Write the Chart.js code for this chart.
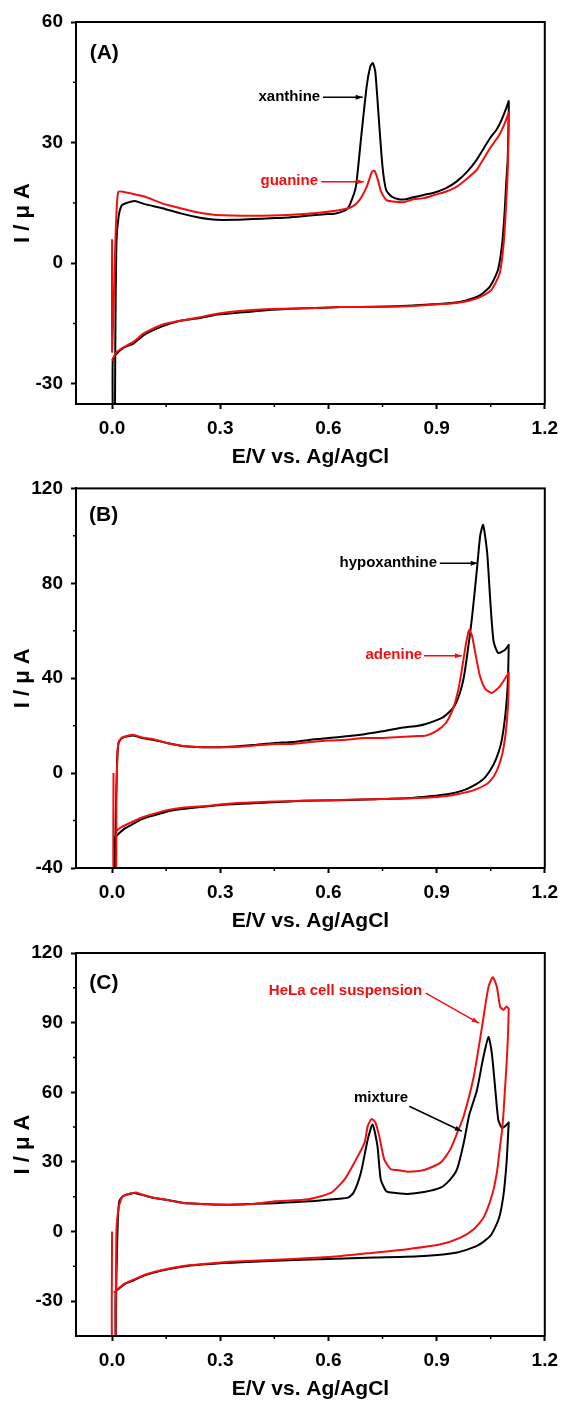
<!DOCTYPE html>
<html>
<head>
<meta charset="utf-8">
<script src="https://cdn.jsdelivr.net/npm/chart.js@4.4.1/dist/chart.umd.min.js"></script>
<style>
    html, body { margin: 0; padding: 0; background: #fff; }
    body { width: 566px; height: 1403px; position: relative; overflow: hidden; }
    canvas { position: absolute; left: 0; }
</style>
</head>
<body>
<canvas id="panelA" width="566" height="469" style="top:0px"></canvas>
<canvas id="panelB" width="566" height="464" style="top:469px"></canvas>
<canvas id="panelC" width="566" height="468" style="top:933px"></canvas>
<script>
// shared axis ticks
const xTicks = [0, 0.3, 0.6, 0.9, 1.2];
const xMinor = [0.15, 0.45, 0.75, 1.05];

// (A) xanthine (black) / guanine (red)
const yTicksA = [-30, 0, 30, 60];
const yMinorA = [-15, 15, 45];
const eXanthine = [0.008, 0.009, 0.012, 0.018, 0.027, 0.04, 0.063, 0.09, 0.14, 0.19, 0.24, 0.29, 0.34, 0.39, 0.44, 0.49, 0.54, 0.59, 0.62, 0.65, 0.66, 0.676, 0.69, 0.706, 0.716, 0.723, 0.73, 0.74, 0.75, 0.76, 0.775, 0.795, 0.815, 0.835, 0.865, 0.895, 0.925, 0.955, 0.985, 1.011, 1.03, 1.048, 1.066, 1.08, 1.095, 1.1,
    1.099, 1.097, 1.093, 1.089, 1.082, 1.07, 1.048, 1.02, 0.98, 0.94, 0.905, 0.835, 0.736, 0.636, 0.537, 0.437, 0.338, 0.288, 0.239, 0.189, 0.139, 0.089, 0.06, 0.03, 0.01, 0.002, 0.002];
const iXanthine = [-40, -20, 5, 11.5, 14.4, 15, 15.5, 14.7, 13.7, 12.4, 11.4, 10.8, 10.8, 11, 11.2, 11.4, 11.8, 12.2, 12.4, 13.3, 14.7, 19, 30.7, 43.9, 48.9, 49.8, 47.6, 35.6, 24, 18.2, 16.6, 15.9, 15.9, 16.4, 17, 17.6, 18.6, 20.3, 22.8, 25.7, 28.5, 31.1, 33.2, 35.6, 39, 40.3,
    33, 25.7, 20, 13.3, 5, -1.7, -5.8, -8, -9.3, -9.9, -10.1, -10.5, -10.8, -10.9, -11.2, -11.6, -12.4, -12.8, -13.7, -14.3, -15.7, -17.8, -19.9, -21.1, -22.8, -24, -40];
const eGuanine = [0.0, 0.0, 0.004, 0.008, 0.012, 0.017, 0.03, 0.065, 0.09, 0.139, 0.189, 0.239, 0.288, 0.388, 0.487, 0.587, 0.636, 0.666, 0.686, 0.706, 0.721, 0.728, 0.736, 0.746, 0.761, 0.786, 0.81, 0.835, 0.865, 0.895, 0.925, 0.955, 0.985, 1.011, 1.048, 1.071, 1.089, 1.1,
    1.1, 1.098, 1.092, 1.086, 1.075, 1.052, 1.02, 0.98, 0.94, 0.905, 0.835, 0.736, 0.636, 0.537, 0.437, 0.338, 0.288, 0.239, 0.189, 0.139, 0.089, 0.06, 0.03, 0.01, 0.0];
const iGuanine = [6, -22, -12, 2, 12, 17.7, 17.8, 17.1, 16.6, 14.9, 13.7, 12.6, 12, 11.8, 12, 12.7, 13.3, 14.1, 15.7, 19, 22.8, 23, 21.1, 17.8, 15.7, 15.3, 15.2, 15.9, 16.2, 17, 17.8, 19, 21.1, 23.2, 28.6, 31.5, 34.8, 37.5,
    37.5, 25, 13.3, 5, -2.5, -6.6, -8.4, -9.5, -10, -10.2, -10.6, -10.8, -10.9, -11.2, -11.4, -12, -12.6, -13.5, -14.3, -15.3, -17.4, -19.5, -21, -22.4, -24.2];

// (B) hypoxanthine (black) / adenine (red)
const yTicksB = [-40, 0, 40, 80, 120];
const yMinorB = [-20, 20, 60, 100];
const eHypoxanthine = [0.008, 0.01, 0.014, 0.018, 0.028, 0.058, 0.083, 0.112, 0.152, 0.202, 0.252, 0.301, 0.351, 0.401, 0.451, 0.5, 0.55, 0.6, 0.65, 0.7, 0.749, 0.799, 0.849, 0.87, 0.916, 0.94, 0.952, 0.965, 0.975, 0.985, 0.998, 1.012, 1.021, 1.029, 1.04, 1.049, 1.058, 1.071, 1.09, 1.1,
    1.1, 1.098, 1.094, 1.087, 1.078, 1.065, 1.05, 1.03, 1.0, 0.97, 0.93, 0.88, 0.83, 0.73, 0.63, 0.53, 0.431, 0.331, 0.232, 0.162, 0.112, 0.083, 0.053, 0.033, 0.013, 0.006, 0.006];
const iHypoxanthine = [-45, -20, 5, 12.7, 14.8, 15.9, 14.8, 14.1, 12.7, 11.3, 10.9, 10.9, 11.3, 12, 12.7, 13.1, 14.1, 14.8, 15.5, 16.4, 17.6, 19, 20, 20.7, 23.4, 26.5, 29, 34, 40, 50, 65.3, 86.2, 100.2, 104.6, 93.2, 72.3, 55.5, 50.6, 52, 54.1,
    54.1, 40, 30, 20, 12, 6, 1.5, -2.5, -5.5, -7.5, -8.9, -9.8, -10.5, -11, -11.4, -11.7, -12.4, -13.1, -14.5, -15.9, -18, -19.4, -21.9, -23.6, -26.3, -27.5, -45];
const eAdenine = [0.004, 0.004, 0.011, 0.012, 0.015, 0.018, 0.028, 0.058, 0.083, 0.112, 0.152, 0.202, 0.252, 0.301, 0.351, 0.401, 0.451, 0.5, 0.55, 0.6, 0.65, 0.7, 0.749, 0.799, 0.849, 0.87, 0.9, 0.925, 0.945, 0.96, 0.972, 0.982, 0.99, 0.998, 1.008, 1.02, 1.035, 1.053, 1.076, 1.1,
    1.1, 1.099, 1.095, 1.09, 1.082, 1.071, 1.06, 1.04, 1.0, 0.96, 0.92, 0.88, 0.83, 0.73, 0.63, 0.53, 0.43, 0.33, 0.25, 0.2, 0.152, 0.112, 0.083, 0.053, 0.028, 0.013, 0.011];
const iAdenine = [0, -45, -45, -10, 8, 13.1, 15, 16.2, 15, 14.4, 12.7, 11.3, 10.9, 10.9, 11.1, 11.7, 12.3, 12.3, 13.1, 13.7, 14.1, 14.8, 14.8, 15.2, 15.6, 15.8, 17.8, 21, 27, 35, 45.5, 55, 60.3, 58, 50, 41, 35.5, 33.8, 36.7, 42.3,
    42.3, 32, 22, 15, 8, 2.5, -1, -4.5, -7.4, -8.8, -9.8, -10.3, -10.6, -11, -11.3, -11.7, -12.1, -12.8, -14, -14.5, -15.6, -17.3, -18.7, -20.8, -22.6, -24.3, -25];

// (C) mixture (black) / HeLa cell suspension (red)
const yTicksC = [-30, 0, 30, 60, 90, 120];
const yMinorC = [-15, 15, 45, 75, 105];
const eMixture = [0.01, 0.012, 0.016, 0.02, 0.03, 0.06, 0.08, 0.109, 0.149, 0.199, 0.249, 0.298, 0.348, 0.398, 0.452, 0.497, 0.547, 0.59, 0.654, 0.67, 0.69, 0.709, 0.7226, 0.736, 0.745, 0.76, 0.773, 0.819, 0.865, 0.911, 0.938, 0.957, 0.975, 0.99, 1.0, 1.012, 1.03, 1.044, 1.053, 1.062, 1.071, 1.081, 1.09, 1.1,
    1.1, 1.099, 1.094, 1.085, 1.072, 1.049, 1.012, 0.957, 0.865, 0.727, 0.6, 0.452, 0.358, 0.308, 0.258, 0.209, 0.159, 0.119, 0.089, 0.06, 0.035, 0.02, 0.01, 0.01];
const iMixture = [-50, -20, 5, 13, 15.2, 16.6, 15.9, 14.7, 13.7, 12.3, 11.9, 11.6, 11.6, 12, 12.2, 12.6, 13, 13.6, 14.6, 16.8, 25.3, 39.7, 46.1, 36.8, 22.5, 17.4, 16.8, 16.2, 17, 18.9, 22.5, 27, 38, 50, 55, 61, 75.4, 83.8, 77, 62.5, 48.2, 44.7, 45.4, 47,
    47, 44, 29.7, 15.3, 5.3, -1.9, -6.2, -9, -10.5, -11.2, -11.8, -12.6, -13.2, -13.6, -14.1, -14.8, -16.1, -17.5, -19, -21, -22.6, -24.5, -26, -50];
const eHela = [0.0, 0.0, 0.009, 0.012, 0.018, 0.025, 0.03, 0.066, 0.08, 0.109, 0.149, 0.199, 0.249, 0.298, 0.348, 0.398, 0.452, 0.544, 0.608, 0.645, 0.672, 0.7, 0.709, 0.72, 0.73, 0.741, 0.755, 0.773, 0.791, 0.819, 0.865, 0.911, 0.938, 0.957, 0.975, 1.003, 1.026, 1.044, 1.056, 1.067, 1.076, 1.085, 1.094, 1.1,
    1.1, 1.098, 1.094, 1.09, 1.085, 1.081, 1.076, 1.067, 1.053, 1.03, 1.003, 0.966, 0.911, 0.819, 0.72, 0.636, 0.55, 0.452, 0.358, 0.308, 0.258, 0.209, 0.159, 0.119, 0.089, 0.06, 0.035, 0.02, 0.01, 0.005];
const iHela = [0, -50, -50, 0, 10, 14, 15.3, 16.8, 16.1, 14.8, 13.7, 12.3, 11.9, 11.4, 11.6, 12, 13, 13.9, 16.8, 22.5, 29.7, 38.2, 45.4, 48.5, 47, 41, 31, 26.8, 26.5, 25.8, 26.5, 29.7, 35.4, 42.5, 49.7, 66.8, 88.3, 105.5, 109.5, 105.5, 96.9, 95.5, 97, 96,
    96, 85, 72, 62.5, 50, 43, 36.8, 25.3, 15.3, 6, 1, -2.6, -5.5, -7.6, -9.2, -10.5, -11.4, -12.2, -12.8, -13.2, -13.9, -14.6, -15.9, -17.3, -18.7, -20.7, -22.4, -24.2, -25.6, -26.3];

const BLACK = '#000000';
const RED = '#f00f0f';
const FONT = '"Liberation Sans", Arial, Helvetica, sans-serif';

function pts(e, i) {
    return e.map((v, k) => ({ x: v, y: i[k] }));
}

// box, minor ticks, panel letter and the labelled arrows
const framePlugin = {
    id: 'frame',
    afterDraw(chart, args, opts) {
        const ctx = chart.ctx;
        const { left, right, top, bottom } = chart.chartArea;
        const xs = chart.scales.x, ys = chart.scales.y;
        ctx.save();
        ctx.strokeStyle = BLACK;
        ctx.lineWidth = 2;
        ctx.strokeRect(left, top, right - left, bottom - top);

        ctx.lineWidth = 1.5;
        ctx.beginPath();
        opts.minorX.forEach(v => {
            const px = xs.getPixelForValue(v);
            ctx.moveTo(px, bottom);
            ctx.lineTo(px, bottom + 3);
        });
        opts.minorY.forEach(v => {
            const py = ys.getPixelForValue(v);
            ctx.moveTo(left, py);
            ctx.lineTo(left - 3, py);
        });
        ctx.stroke();

        ctx.fillStyle = BLACK;
        ctx.font = 'bold 21px ' + FONT;
        ctx.textAlign = 'left';
        ctx.textBaseline = 'middle';
        ctx.fillText(opts.letter.text, xs.getPixelForValue(opts.letter.at[0]), ys.getPixelForValue(opts.letter.at[1]));

        opts.notes.forEach(n => {
            ctx.fillStyle = n.color;
            ctx.strokeStyle = n.color;
            ctx.font = 'bold 15px ' + FONT;
            ctx.textAlign = 'right';
            ctx.fillText(n.text, xs.getPixelForValue(n.at[0]), ys.getPixelForValue(n.at[1]));
            const x1 = xs.getPixelForValue(n.from[0]), y1 = ys.getPixelForValue(n.from[1]);
            const x2 = xs.getPixelForValue(n.to[0]), y2 = ys.getPixelForValue(n.to[1]);
            ctx.lineWidth = 1.5;
            ctx.beginPath();
            ctx.moveTo(x1, y1);
            ctx.lineTo(x2, y2);
            ctx.stroke();
            const a = Math.atan2(y2 - y1, x2 - x1);
            ctx.beginPath();
            ctx.moveTo(x2, y2);
            ctx.lineTo(x2 - 7 * Math.cos(a) + 2.5 * Math.sin(a), y2 - 7 * Math.sin(a) - 2.5 * Math.cos(a));
            ctx.lineTo(x2 - 7 * Math.cos(a) - 2.5 * Math.sin(a), y2 - 7 * Math.sin(a) + 2.5 * Math.cos(a));
            ctx.closePath();
            ctx.fill();
        });
        ctx.restore();
    }
};

function makePanel(id, p) {
    const axisGrid = { display: true, drawOnChartArea: false, drawTicks: true, tickLength: 5, tickWidth: 2, tickColor: BLACK };
    const axisBorder = { display: true, width: 2, color: BLACK };
    new Chart(document.getElementById(id), {
        type: 'scatter',
        data: {
            datasets: [
                { data: pts(p.redE, p.redI), borderColor: RED, showLine: true, order: 0 },
                { data: pts(p.blackE, p.blackI), borderColor: BLACK, showLine: true, order: 1 }
            ]
        },
        options: {
            responsive: false,
            animation: false,
            layout: { padding: { top: p.padTop, right: 16, bottom: 0, left: 0 } },
            elements: {
                point: { radius: 0, hoverRadius: 0 },
                line: { borderWidth: 2, tension: 0.2, fill: false, borderJoinStyle: 'round' }
            },
            plugins: {
                legend: { display: false },
                tooltip: { enabled: false },
                frame: { minorX: xMinor, minorY: p.yMinor, letter: p.letter, notes: p.notes }
            },
            scales: {
                x: {
                    type: 'linear',
                    min: -0.1,
                    max: 1.2,
                    afterBuildTicks: s => { s.ticks = xTicks.map(v => ({ value: v })); },
                    afterFit: s => { s.height = 65; },
                    grid: axisGrid,
                    border: axisBorder,
                    ticks: {
                        color: BLACK,
                        padding: 8,
                        maxRotation: 0,
                        font: { family: FONT, size: 19, weight: 'bold' },
                        callback: v => v.toFixed(1)
                    },
                    title: {
                        display: true,
                        text: 'E/V vs. Ag/AgCl',
                        color: BLACK,
                        padding: { top: 0, bottom: 1 },
                        font: { family: FONT, size: 21, weight: 'bold', lineHeight: 1 }
                    }
                },
                y: {
                    type: 'linear',
                    min: p.yMin,
                    max: p.yMax,
                    afterBuildTicks: s => { s.ticks = p.yTicks.map(v => ({ value: v })); },
                    afterFit: s => { s.width = 76; },
                    grid: axisGrid,
                    border: axisBorder,
                    ticks: {
                        color: BLACK,
                        padding: 8,
                        font: { family: FONT, size: 19, weight: 'bold' },
                        callback: v => String(v)
                    },
                    title: {
                        display: true,
                        text: 'I / μ A',
                        color: BLACK,
                        padding: { top: 12, bottom: 0 },
                        font: { family: FONT, size: 22, weight: 'bold', lineHeight: 1 }
                    }
                }
            }
        },
        plugins: [framePlugin]
    });
}

makePanel('panelA', {
    padTop: 22, yMin: -35, yMax: 60, yTicks: yTicksA, yMinor: yMinorA,
    blackE: eXanthine, blackI: iXanthine, redE: eGuanine, redI: iGuanine,
    letter: { text: '(A)', at: [-0.062, 52.3] },
    notes: [
        { text: 'xanthine', color: BLACK, at: [0.577, 41.4], from: [0.585, 41.3], to: [0.695, 41.3] },
        { text: 'guanine', color: RED, at: [0.571, 20.5], from: [0.58, 20.3], to: [0.698, 20.3] }
    ]
});

makePanel('panelB', {
    padTop: 16, yMin: -40, yMax: 120, yTicks: yTicksB, yMinor: yMinorB,
    blackE: eHypoxanthine, blackI: iHypoxanthine, redE: eAdenine, redI: iAdenine,
    letter: { text: '(B)', at: [-0.064, 108.7] },
    notes: [
        { text: 'hypoxanthine', color: BLACK, at: [0.901, 88.7], from: [0.909, 88.5], to: [1.014, 88.5] },
        { text: 'adenine', color: RED, at: [0.86, 49.7], from: [0.865, 49.5], to: [0.97, 49.5] }
    ]
});

makePanel('panelC', {
    padTop: 20, yMin: -45, yMax: 120, yTicks: yTicksC, yMinor: yMinorC,
    blackE: eMixture, blackI: iMixture, redE: eHela, redI: iHela,
    letter: { text: '(C)', at: [-0.063, 107.1] },
    notes: [
        { text: 'HeLa cell suspension', color: RED, at: [0.86, 103.7], from: [0.87, 102.7], to: [1.017, 89.8] },
        { text: 'mixture', color: BLACK, at: [0.821, 57.7], from: [0.824, 54], to: [0.97, 43.2] }
    ]
});
</script>
</body>
</html>
